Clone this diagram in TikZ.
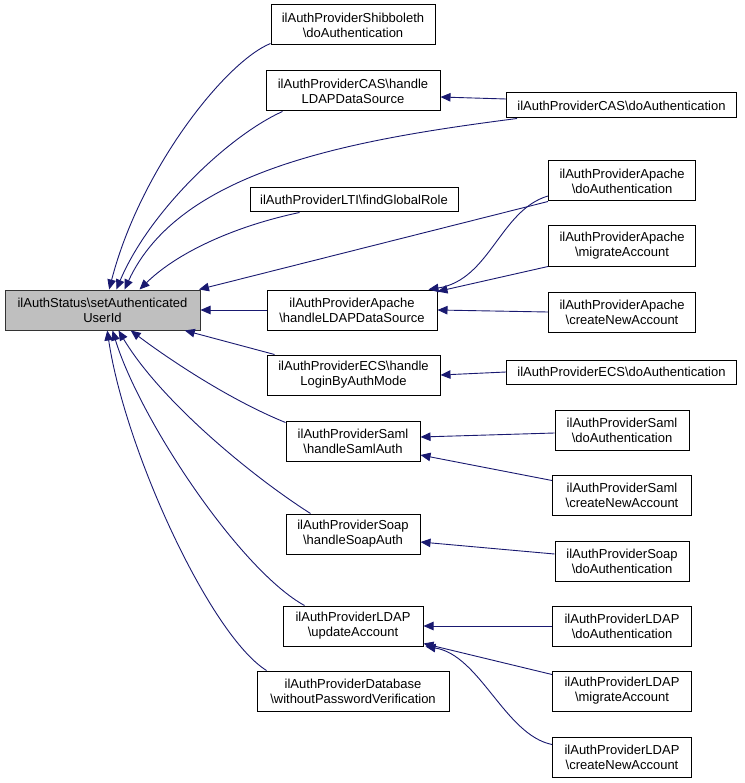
\documentclass[tikz,border=0pt]{standalone}
\usepackage{fontspec}
\setmainfont{Liberation Sans}
\usetikzlibrary{arrows.meta}
\definecolor{edgec}{HTML}{191970}
\definecolor{mainfill}{HTML}{BFBFBF}
\begin{document}
\begin{tikzpicture}[x=1pt,y=-1pt,
  box/.style={draw=black, fill=white, line width=1pt, inner sep=0pt, align=center,
    font=\fontsize{13}{15}\selectfont},
  mainbox/.style={box, fill=mainfill, draw=black!80},
  edge/.style={draw=edgec, line width=0.9pt, -{Triangle[length=10pt,width=8.5pt]}}]
\useasboundingbox (0,0) rectangle (744,783);
% main
\node[mainbox, minimum width=195pt, minimum height=40pt] (main) at (102.5,310) {ilAuthStatus\textbackslash setAuthenticated\\UserId};
% middle column
\node[box, minimum width=164pt, minimum height=40pt] (shib) at (353,25) {ilAuthProviderShibboleth\\\textbackslash doAuthentication};
\node[box, minimum width=174pt, minimum height=40pt] (casH) at (353,91) {ilAuthProviderCAS\textbackslash handle\\LDAPDataSource};
\node[box, minimum width=208pt, minimum height=24pt] (lti) at (354,200) {ilAuthProviderLTI\textbackslash findGlobalRole};
\node[box, minimum width=170pt, minimum height=40pt] (apH) at (352,310) {ilAuthProviderApache\\\textbackslash handleLDAPDataSource};
\node[box, minimum width=173pt, minimum height=40pt] (ecsH) at (353.5,375) {ilAuthProviderECS\textbackslash handle\\LoginByAuthMode};
\node[box, minimum width=134pt, minimum height=40pt] (samlH) at (353,441) {ilAuthProviderSaml\\\textbackslash handleSamlAuth};
\node[box, minimum width=134pt, minimum height=40pt] (soapH) at (353,534) {ilAuthProviderSoap\\\textbackslash handleSoapAuth};
\node[box, minimum width=140pt, minimum height=40pt] (ldapU) at (353,626) {ilAuthProviderLDAP\\\textbackslash updateAccount};
\node[box, minimum width=192pt, minimum height=40pt] (db) at (353,691) {ilAuthProviderDatabase\\\textbackslash withoutPasswordVerification};
% right column
\node[box, minimum width=230pt, minimum height=25pt] (casD) at (621.5,105.5) {ilAuthProviderCAS\textbackslash doAuthentication};
\node[box, minimum width=147pt, minimum height=40pt] (apD) at (622,181) {ilAuthProviderApache\\\textbackslash doAuthentication};
\node[box, minimum width=147pt, minimum height=40pt] (apM) at (622,246) {ilAuthProviderApache\\\textbackslash migrateAccount};
\node[box, minimum width=147pt, minimum height=40pt] (apC) at (622,312) {ilAuthProviderApache\\\textbackslash createNewAccount};
\node[box, minimum width=230pt, minimum height=24pt] (ecsD) at (621.5,372) {ilAuthProviderECS\textbackslash doAuthentication};
\node[box, minimum width=134pt, minimum height=40pt] (samlD) at (622,430) {ilAuthProviderSaml\\\textbackslash doAuthentication};
\node[box, minimum width=139pt, minimum height=40pt] (samlC) at (622,495) {ilAuthProviderSaml\\\textbackslash createNewAccount};
\node[box, minimum width=134pt, minimum height=40pt] (soapD) at (622,561) {ilAuthProviderSoap\\\textbackslash doAuthentication};
\node[box, minimum width=139pt, minimum height=40pt] (ldapD) at (622,626) {ilAuthProviderLDAP\\\textbackslash doAuthentication};
\node[box, minimum width=139pt, minimum height=40pt] (ldapM) at (622,691) {ilAuthProviderLDAP\\\textbackslash migrateAccount};
\node[box, minimum width=139pt, minimum height=40pt] (ldapC) at (622,757) {ilAuthProviderLDAP\\\textbackslash createNewAccount};
% edges into main
\draw[edge] ([yshift=2pt]shib.south west) .. controls (225,62) and (140,170) .. (main.72);
\draw[edge] ([xshift=17pt]casH.south west) .. controls (230,135) and (150,210) .. (main.56);
\draw[edge] ([xshift=11pt]casD.south west) .. controls (350,140) and (180,170) .. (main.43);
\draw[edge] ([xshift=50pt]lti.south west) .. controls (240,225) and (180,250) .. (main.29);
\draw[edge] (apD.south west) -- (main.12);
\draw[edge] (apH.west) -- (main.east);
\draw[edge] ([xshift=8pt]ecsH.north west) -- (main.-14.5);
\draw[edge] ([yshift=-2pt]samlH.north west) .. controls (230,400) and (170,360) .. (main.-36);
\draw[edge] ([xshift=25pt]soapH.north west) .. controls (250,475) and (160,400) .. (main.-52);
\draw[edge] ([xshift=22pt]ldapU.north west) .. controls (240,570) and (140,420) .. (main.-64.6);
\draw[edge] ([xshift=10pt]db.north west) .. controls (210,635) and (125,450) .. (main.-77);
% edges into middle column
\draw[edge] ([yshift=6.5pt]casD.west) -- ([yshift=-6pt]casH.east);
\draw[edge] ([yshift=-15pt]apD.west) .. controls (500,210) and (490,280) .. ([xshift=-9pt]apH.north east);
\draw[edge] (apM.south west) -- ([yshift=-2pt]apH.north east);
\draw[edge] (apC.west) -- (apH.east);
\draw[edge] (ecsD.west) -- (ecsH.east);
\draw[edge] ([yshift=-3pt]samlD.west) -- ([yshift=4pt]samlH.east);
\draw[edge] ([yshift=-6pt]samlC.north west) -- ([yshift=-14pt]samlH.east);
\draw[edge] ([yshift=7pt]soapD.west) -- ([yshift=-8pt]soapH.east);
\draw[edge] (ldapD.west) -- (ldapU.east);
\draw[edge] ([yshift=-4pt]ldapM.north west) -- ([yshift=3pt]ldapU.south east);
\draw[edge] ([yshift=-8pt]ldapC.north west) .. controls (505,735) and (480,655) .. ([xshift=2pt]ldapU.south east);
\end{tikzpicture}
\end{document}
